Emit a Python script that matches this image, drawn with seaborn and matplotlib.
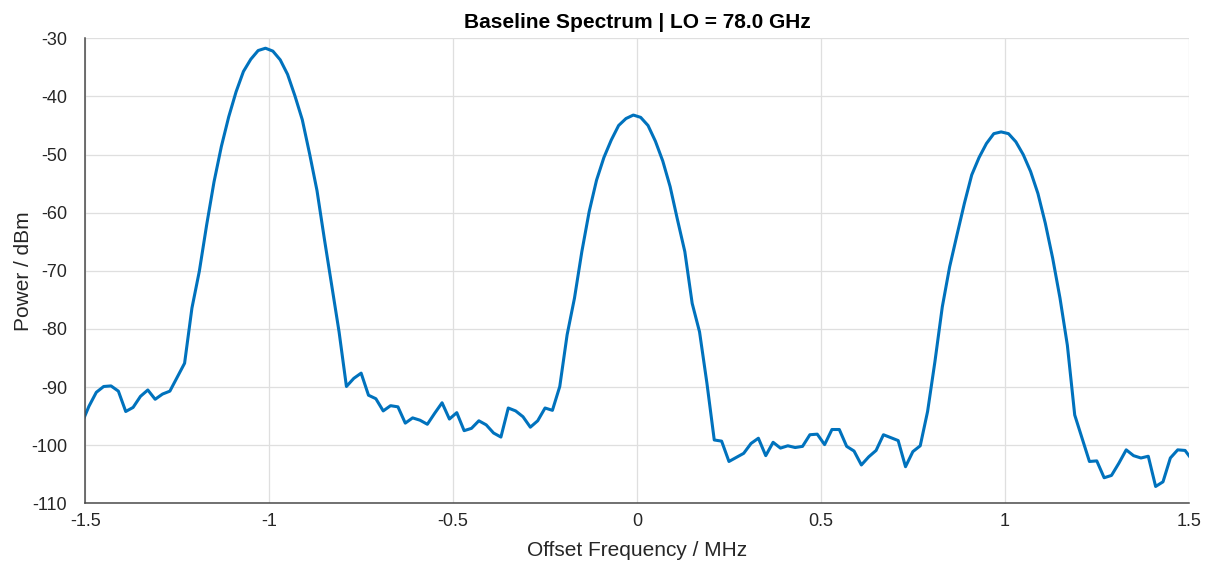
import numpy as np
import pandas as pd
import matplotlib
matplotlib.use("Agg")
import matplotlib.pyplot as plt
import seaborn as sns

# ---- data ----
freq_start_mhz = -1.51
freq_step_mhz = 0.02
power_dbm = [
    -96.3, -93.3, -90.9, -89.9, -89.8, -90.7, -94.2, -93.5, -91.6, -90.5,
    -92.1, -91.2, -90.7, -88.3, -85.9, -76.4, -70.1, -62.1, -54.7, -48.6,
    -43.5, -39.2, -35.7, -33.6, -32.1, -31.7, -32.2, -33.7, -36.2, -39.9,
    -44.0, -49.9, -56.2, -64.5, -72.5, -80.5, -89.9, -88.5, -87.6, -91.4,
    -92.0, -94.1, -93.2, -93.4, -96.2, -95.3, -95.7, -96.4, -94.5, -92.7,
    -95.5, -94.4, -97.5, -97.1, -95.8, -96.5, -97.9, -98.6, -93.6, -94.1,
    -95.1, -96.9, -95.8, -93.6, -94.0, -89.9, -81.0, -74.7, -66.7, -59.8,
    -54.4, -50.5, -47.5, -45.0, -43.8, -43.2, -43.6, -45.0, -47.7, -51.1,
    -55.5, -61.2, -66.7, -75.6, -80.5, -89.3, -99.1, -99.3, -102.8, -102.1,
    -101.4, -99.7, -98.8, -101.8, -99.5, -100.5, -100.1, -100.4, -100.2, -98.2,
    -98.1, -99.9, -97.3, -97.3, -100.2, -101.0, -103.4, -102.0, -100.9, -98.2,
    -98.7, -99.2, -103.7, -101.1, -100.1, -94.2, -85.6, -76.2, -69.3, -63.8,
    -58.4, -53.5, -50.5, -48.1, -46.4, -46.1, -46.4, -47.8, -50.0, -52.9,
    -56.7, -61.8, -67.8, -74.7, -82.8, -94.8, -98.8, -102.8, -102.7, -105.6,
    -105.2, -103.1, -100.8, -101.8, -102.2, -101.9, -107.1, -106.3, -102.2, -100.8,
    -100.9, -102.6,
]
freq_mhz = np.round(freq_start_mhz + freq_step_mhz * np.arange(len(power_dbm)), 4)

x_ticks = [-1.5, -1.0, -0.5, 0.0, 0.5, 1.0, 1.5]
x_tick_labels = ["-1.5", "-1", "-0.5", "0", "0.5", "1", "1.5"]
y_ticks = [-110, -100, -90, -80, -70, -60, -50, -40, -30]
y_tick_labels = [str(v) for v in y_ticks]

title_text = "Baseline Spectrum | LO = 78.0 GHz"
x_label = "Offset Frequency / MHz"
y_label = "Power / dBm"

df = pd.DataFrame({"freq": freq_mhz, "power": power_dbm})

# ---- style ----
sns.set_theme(style="white")
plt.rcParams["font.family"] = ["Liberation Sans", "DejaVu Sans"]

fig = plt.figure(figsize=(12.13, 5.62), dpi=100)
ax = fig.add_axes([0.0703, 0.1044, 0.9097, 0.8274])

sns.lineplot(data=df, x="freq", y="power", ax=ax, color="#0072BD",
             linewidth=2.2, sort=False, estimator=None)

ax.set_xlim(-1.5, 1.5)
ax.set_ylim(-110, -30)
ax.set_xticks(x_ticks)
ax.set_xticklabels(x_tick_labels)
ax.set_yticks(y_ticks)
ax.set_yticklabels(y_tick_labels)

ax.grid(True, color="#dfdfdf", linewidth=0.9)
ax.set_axisbelow(True)

for side in ["top", "right"]:
    ax.spines[side].set_visible(False)
for side in ["left", "bottom"]:
    ax.spines[side].set_color("#4a4a4a")
    ax.spines[side].set_linewidth(1.1)

ax.tick_params(axis="both", direction="in", length=8, width=1.0,
               color="#4a4a4a", labelcolor="#262626", labelsize=13)
ax.tick_params(axis="y", pad=13)
ax.tick_params(axis="x", pad=7)

ax.set_xlabel(x_label, fontsize=15, color="#262626")
ax.set_ylabel(y_label, fontsize=15, color="#262626")
ax.xaxis.set_label_coords(0.5, -0.082)
ax.yaxis.set_label_coords(-0.047, 0.5)
ax.set_title(title_text, fontsize=15, fontweight="bold", color="black", pad=7.5)

fig.savefig("out.png", dpi=100)
